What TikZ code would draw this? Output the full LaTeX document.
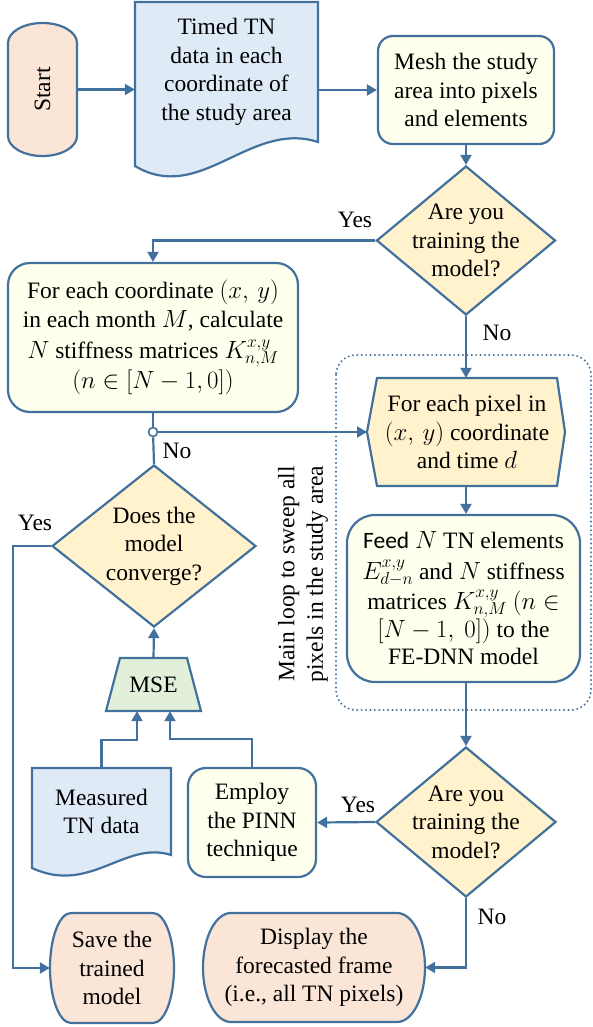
\documentclass[tikz,border=0pt]{standalone}
\usepackage{fontspec}
\setmainfont{Liberation Serif}
\newfontfamily\sansfeed{Carlito}
\usetikzlibrary{shapes.geometric,arrows.meta,calc}
\definecolor{edge}{HTML}{41719C}
\definecolor{peach}{HTML}{FBE5D6}
\definecolor{docblue}{HTML}{DEEBF7}
\definecolor{lightyel}{HTML}{FFFFEE}
\definecolor{gold}{HTML}{FFF2CC}
\definecolor{mint}{HTML}{E2F0D9}
\begin{document}
\begin{tikzpicture}[x=1pt,y=-1pt,
  txt/.style={font=\fontsize{23.5}{28.5}\selectfont, align=center, inner sep=0pt},
  lbl/.style={font=\fontsize{23.5}{26}\selectfont, inner sep=0pt},
  holder/.style={rectangle, draw=none, inner sep=0pt, txt},
  rbox/.style={rectangle, draw=edge, fill=lightyel, line width=2.2pt, inner sep=0pt, txt},
  outl/.style={draw=edge, line width=2.2pt},
  dia/.style={diamond, draw=edge, fill=gold, line width=2.2pt, inner sep=0pt},
  arr/.style={draw=edge, line width=2.2pt, -{Triangle[length=10pt,width=11pt]}},
  ln/.style={draw=edge, line width=2.2pt},
  loopbox/.style={draw=edge, line width=2.2pt, line cap=round, dash pattern=on 0pt off 4.4pt, rounded corners=20pt}
]
\useasboundingbox (0,0) rectangle (593,1027);

% ---- custom shapes (drawn first) ----
% Start terminator (vertical)
\draw[outl, fill=peach] (8,43) -- (8,136) arc[start angle=180, end angle=360, x radius=34.5pt, y radius=20pt] -- (77,43) arc[start angle=0, end angle=180, x radius=34.5pt, y radius=20pt] -- cycle;
% Timed TN document
\draw[outl, fill=docblue] (135,2) -- (318,2) -- (318,142) .. controls (250,120) and (200,205) .. (135,166) -- cycle;
% hexagon
\draw[outl, fill=gold] (377,378) -- (557,378) -- (565,432) -- (557,486) -- (377,486) -- (367,432) -- cycle;
% MSE trapezoid
\draw[outl, fill=mint] (106,711) -- (201,711) -- (187,658) -- (120,658) -- cycle;
% Measured TN data document
\draw[outl, fill=docblue] (32,768) -- (171,768) -- (171,855) .. controls (125,840) and (90,895) .. (32,868) -- cycle;
% Save terminator
\draw[outl, fill=peach] (71,913) -- (153,913) arc[start angle=90, end angle=-90, x radius=21pt, y radius=55pt] -- (71,1023) arc[start angle=270, end angle=90, x radius=21pt, y radius=55pt] -- cycle;
% Display terminator
\draw[outl, fill=peach] (231,913) -- (397,913) arc[start angle=90, end angle=-90, x radius=28pt, y radius=54.5pt] -- (231,1022) arc[start angle=270, end angle=90, x radius=28pt, y radius=54.5pt] -- cycle;
% main loop dotted frame
\draw[loopbox] (336,355) rectangle (591,710);

% ---- nodes ----
\node[holder, minimum width=69pt, minimum height=133pt] (start) at (42.5,89.5) {};
\node[txt, rotate=90] (starttxt) at (start) {Start};
\node[holder, minimum width=183pt, minimum height=140pt] (doc1) at (226.5,72) {Timed TN\\data in each\\coordinate of\\the study area};
\node[rbox, rounded corners=15pt, minimum width=176pt, minimum height=108pt] (mesh) at (466,90) {Mesh the study\\area into pixels\\and elements};
\node[dia, minimum width=179pt, minimum height=149pt] (d1) at (466,240.5) {};
\node[txt] (d1t) at (d1) {Are you\\training the\\model?};
\node[rbox, rounded corners=22pt, minimum width=290pt, minimum height=149pt] (box2) at (153,337.5) {For each coordinate $(x,\,y)$\\in each month $M$, calculate\\[3pt]$N$ stiffness matrices $K_{n,M}^{x,y}$\\[1pt]$(n\in[N-1,0])$};
\node[holder, minimum width=180pt, minimum height=108pt] (hex) at (467,432) {For each pixel in\\$(x,\,y)$ coordinate\\and time $d$};
\coordinate (hexL) at (367,432);
\node[rbox, rounded corners=28pt, minimum width=233pt, minimum height=167pt, font=\fontsize{23.5}{27.5}\selectfont] (feed) at (463.5,598.5) {{\sansfeed Feed} $N$ TN elements\\[3pt]$E_{d-n}^{x,y}$ and $N$ stiffness\\[3pt]matrices $K_{n,M}^{x,y}$ $(n\in$\\$[N-1,\ 0])$ to the\\FE-DNN model};
\node[dia, minimum width=204pt, minimum height=162pt] (d2) at (154,546) {};
\node[txt] (d2t) at (d2) {Does the\\model\\converge?};
\node[holder, minimum width=95pt, minimum height=53pt] (mse) at (153.5,684.5) {MSE};
\node[holder, minimum width=139pt, minimum height=87pt] (meas) at (101.5,811.5) {Measured\\TN data};
\node[rbox, rounded corners=18pt, minimum width=128pt, minimum height=109pt] (employ) at (252,822.5) {Employ\\the PINN\\technique};
\node[dia, minimum width=180pt, minimum height=150pt] (d3) at (466,822) {};
\node[txt] (d3t) at (d3) {Are you\\training the\\model?};
\node[holder, minimum width=124pt, minimum height=110pt] (save) at (112,968) {Save the\\trained\\model};
\node[holder, minimum width=222pt, minimum height=109pt] (disp) at (314,967.5) {Display the\\forecasted frame\\(i.e., all TN pixels)};
\node[txt, rotate=90] (looplbl) at (303,574) {Main loop to sweep all\\pixels in the study area};
\coordinate (yesL) at (13,546);

% ---- connectors ----
\draw[arr] (start.east |- start) -- (start -| doc1.west);
\draw[arr] (mesh -| doc1.east) -- (mesh.west);
\draw[arr] (mesh.south) -- (d1.north);
\draw[arr] (d1.west) -| (box2.north);
\draw[arr] (d1.south) -- (d1.south |- hex.north);
\node[circle, draw=edge, fill=white, line width=1.6pt, minimum size=9pt, inner sep=0pt] (jn) at (153,432) {};
\draw[ln] (box2.south) -- (jn);
\draw[ln] (d2.north) -- (jn);
\draw[arr] (jn) -- (hexL);
\draw[arr] (hex.south -| d1) -- (d1 |- feed.north);
\draw[arr] (feed.south -| d1) -- (d3.north);
\draw[arr] (mse.north) -- (d2.south);
\draw[arr] (meas.north) -- ++(0,-28) -| ([xshift=-16.5pt]mse.south);
\draw[arr] (employ.north) -- ++(0,-28) -| ([xshift=16.5pt]mse.south);
\draw[arr] (d2.west) -- (yesL) |- (save.west);
\draw[arr] (d3.west) -- (employ.east);
\draw[arr] (d3.south) |- (disp.east);

% ---- labels ----
\node[lbl] at (355,220) {Yes};
\node[lbl] at (497,333) {No};
\node[lbl] at (177,451) {No};
\node[lbl] at (35,523) {Yes};
\node[lbl] at (358,805) {Yes};
\node[lbl] at (492,917) {No};
\end{tikzpicture}
\end{document}
